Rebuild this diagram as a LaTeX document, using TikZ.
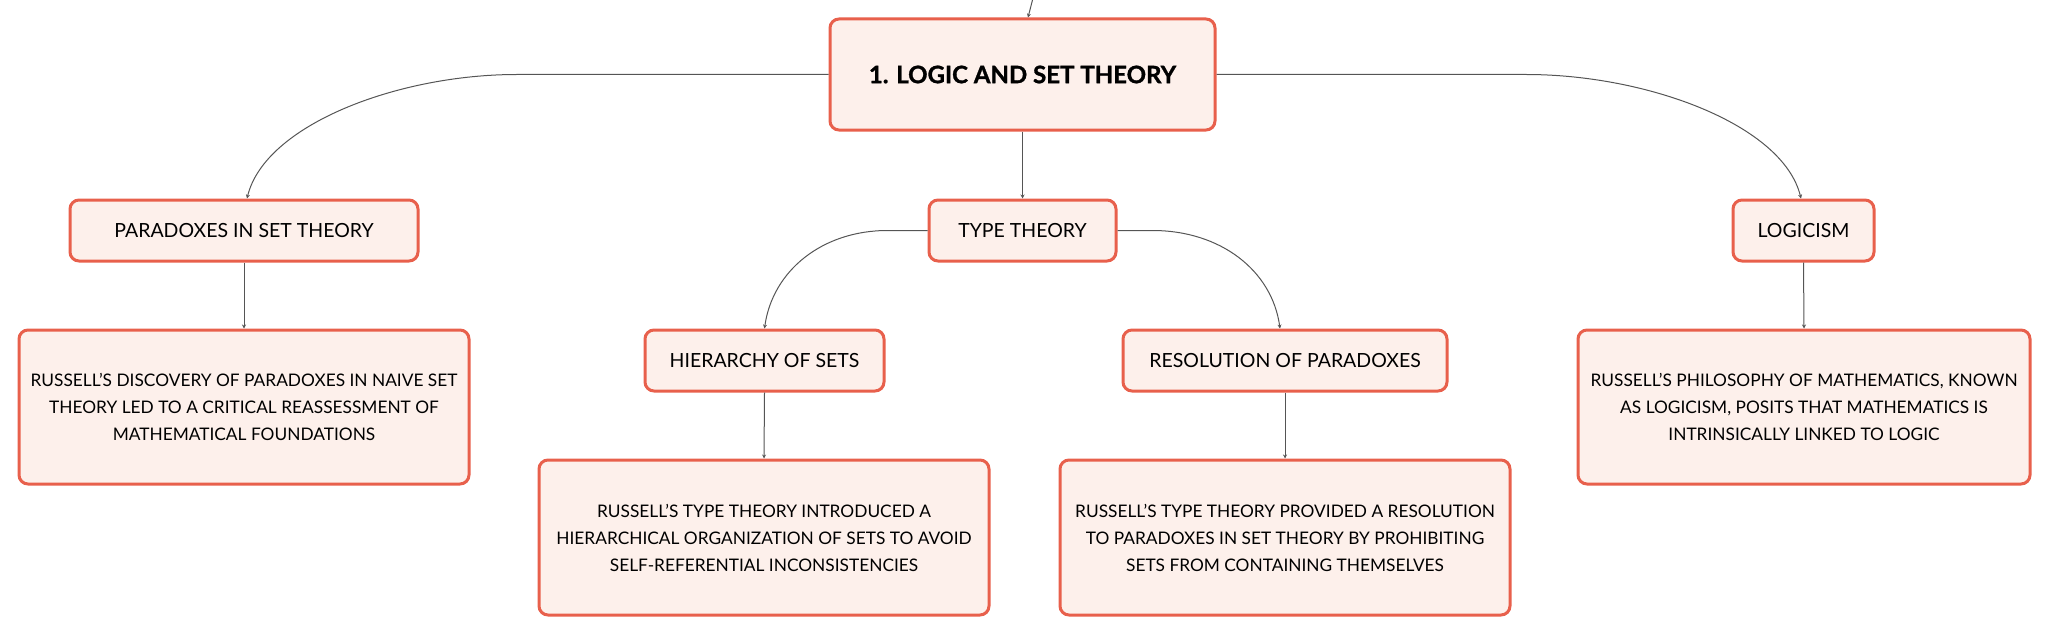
\documentclass[tikz,border=0pt]{standalone}
\usepackage{fontspec}
\setmainfont{Lato}
\newfontfamily\rootfont[FakeBold=1.2]{Lato}
\usetikzlibrary{arrows.meta}
\definecolor{boxfill}{HTML}{FDF0EB}
\definecolor{boxline}{HTML}{E8604C}
\definecolor{linkgray}{HTML}{555555}
\tikzset{
  box/.style={draw=boxline, fill=boxfill, line width=3pt, rounded corners=9pt,
    align=center, inner sep=0pt, text=black},
  label/.style={box, minimum height=61pt, font=\fontsize{19.5}{24}\selectfont},
  leaf/.style={box, minimum width=450pt, minimum height=154pt, font=\fontsize{17.3}{27}\selectfont},
  link/.style={draw=linkgray, line width=1pt, -{Stealth[length=4pt,width=4pt]}},
}
\begin{document}
\begin{tikzpicture}[x=1pt,y=-1pt]
\useasboundingbox (0,0) rectangle (2046,634);
% nodes
\node[box, minimum width=385pt, minimum height=111pt, font=\fontsize{24}{30}\rootfont\bfseries] (root) at (1022.5,74.5) {1. LOGIC AND SET THEORY};
\node[label, minimum width=187pt] (type) at (1022.5,230.5) {TYPE THEORY};
\node[label, minimum width=348pt] (para) at (244,230.5) {PARADOXES IN SET THEORY};
\node[label, minimum width=141pt] (logic) at (1803.5,230.5) {LOGICISM};
\node[label, minimum width=239pt] (hier) at (764.5,360.5) {HIERARCHY OF SETS};
\node[label, minimum width=324pt] (resol) at (1285,360.5) {RESOLUTION OF PARADOXES};
\node[leaf] (russ1) at (244,407) {RUSSELL'S DISCOVERY OF PARADOXES IN NAIVE SET\\THEORY LED TO A CRITICAL REASSESSMENT OF\\MATHEMATICAL FOUNDATIONS};
\node[leaf, minimum height=155pt] (tt1) at (764,537.5) {RUSSELL'S TYPE THEORY INTRODUCED A\\HIERARCHICAL ORGANIZATION OF SETS TO AVOID\\SELF-REFERENTIAL INCONSISTENCIES};
\node[leaf, minimum height=155pt] (tt2) at (1285,537.5) {RUSSELL'S TYPE THEORY PROVIDED A RESOLUTION\\TO PARADOXES IN SET THEORY BY PROHIBITING\\SETS FROM CONTAINING THEMSELVES};
\node[leaf, minimum width=452pt] (russ3) at (1804,407) {RUSSELL'S PHILOSOPHY OF MATHEMATICS, KNOWN\\AS LOGICISM, POSITS THAT MATHEMATICS IS\\INTRINSICALLY LINKED TO LOGIC};
% incoming link from outside
\coordinate (up) at (1033,-2);
\draw[link] (up) -- ([xshift=5.5pt]root.north);
% links
\draw[link] (root.west) -- ++(-312,0) .. controls +(-118,0) and +(18,-74) .. ([xshift=3pt]para.north);
\draw[link] (root.east) -- ++(310,0) .. controls +(120,0) and +(-18,-74) .. ([xshift=-2.5pt]logic.north);
\draw[link] (root.south) -- (type.north);
\draw[link] (type.west) -- ++(-40,0) .. controls +(-65,0) and +(8,-58) .. (hier.north);
\draw[link] (type.east) -- ++(35,0) .. controls +(68,0) and +(-8,-58) .. ([xshift=-5pt]resol.north);
\draw[link] (para.south) -- (russ1.north);
\draw[link] (hier.south) -- (tt1.north);
\draw[link] (resol.south) -- (tt2.north);
\draw[link] (logic.south) -- (russ3.north);
\end{tikzpicture}
\end{document}
